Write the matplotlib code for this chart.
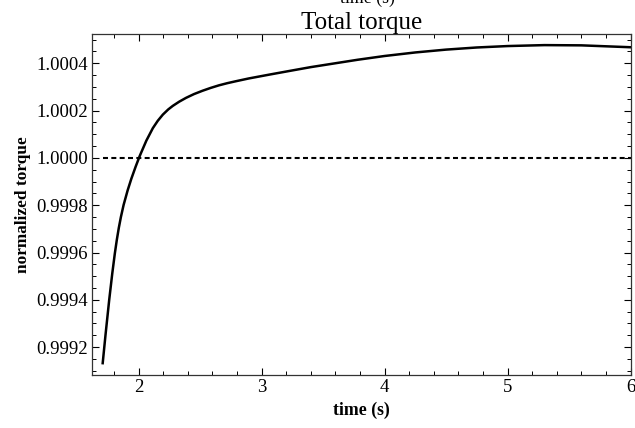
import numpy as np
import matplotlib
matplotlib.use("Agg")
import matplotlib.pyplot as plt
from matplotlib.ticker import MultipleLocator, FormatStrFormatter

# values
time_s = [1.707, 1.73, 1.76, 1.785, 1.806, 1.822, 1.838, 1.855, 1.877, 1.91,
          1.94, 1.975, 2.008, 2.062, 2.115, 2.155, 2.196, 2.24, 2.277, 2.33,
          2.385, 2.45, 2.519, 2.585, 2.653, 2.72, 2.788, 2.895, 3.07, 3.25,
          3.4, 3.78, 4.0, 4.25, 4.5, 4.75, 5.0, 5.3, 5.6, 6.0]
torque = [0.999132, 0.999252, 0.999400, 0.999512, 0.999597, 0.999654, 0.999704,
          0.999750, 0.999801, 0.999863, 0.999912, 0.999963, 1.000008, 1.000073,
          1.000126, 1.000157, 1.000183, 1.000205, 1.000220, 1.000238, 1.000254,
          1.000270, 1.000284, 1.000296, 1.000307, 1.000316, 1.000324, 1.000336,
          1.000353, 1.000370, 1.000384, 1.000415, 1.000431, 1.000446, 1.000458,
          1.000467, 1.000473, 1.000477, 1.000476, 1.000468]
ref_level = 1.0

plt.rcParams['font.family'] = ['Liberation Serif', 'DejaVu Serif']

fig = plt.figure(figsize=(6.35, 4.28), dpi=100)
ax = fig.add_axes([92/635, 1 - 375/428, (630.5-92)/635, (375-34)/428])

ax.plot(time_s, torque, color='black', lw=1.8)
ax.plot([time_s[0], 6.0], [ref_level, ref_level], color='black', lw=1.5, ls=(0, (2.4, 1.6)))

ax.set_xlim(1.62, 6.0)
ax.set_ylim(0.999082, 1.000524)

ax.xaxis.set_major_locator(MultipleLocator(1))
ax.xaxis.set_minor_locator(MultipleLocator(0.2))
ax.yaxis.set_major_locator(MultipleLocator(0.0002))
ax.yaxis.set_minor_locator(MultipleLocator(0.00005))
ax.yaxis.set_major_formatter(FormatStrFormatter('%.4f'))

ax.tick_params(which='both', direction='in', top=True, right=True, labelsize=13.5)
ax.tick_params(which='major', length=5, width=0.8, pad=3)
ax.tick_params(which='minor', length=3, width=0.7)
for s in ax.spines.values():
    s.set_linewidth(0.9)
    s.set_color('#333333')

ax.set_title('Total torque', fontsize=18, pad=2)
ax.set_xlabel('time (s)', fontsize=12.8, fontweight='bold', labelpad=4)
ax.set_ylabel('normalized torque', fontsize=12.4, fontweight='bold', labelpad=4)

# clipped leftover label at the very top of the picture
fig.text(0.578, 1.003, 'time (s)', fontsize=12.8, ha='center', va='center')

fig.savefig('out.png', dpi=100)
